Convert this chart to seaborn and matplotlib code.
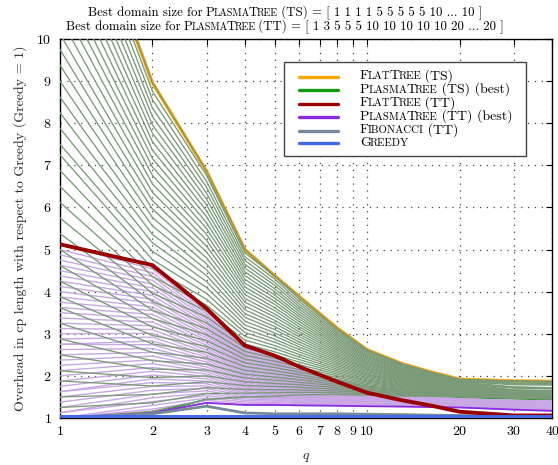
import matplotlib
matplotlib.use("Agg")
import matplotlib.pyplot as plt
from matplotlib.lines import Line2D
from matplotlib.offsetbox import TextArea, HPacker, VPacker, DrawingArea, AnchoredOffsetbox
import numpy as np
import pandas as pd
import seaborn as sns

# q values (number of tile columns), p = 40
Q = [1, 2, 3, 4, 5, 6, 8, 10, 13, 16, 20, 30, 40]

FLAT_TS = [14.88, 8.96, 6.86, 5.00, 4.38, 3.89, 3.13, 2.62, 2.29, 2.10, 1.92, 1.88, 1.87]
FLAT_TT = [5.125, 4.63, 3.60, 2.72, 2.48, 2.22, 1.86, 1.60, 1.42, 1.30, 1.15, 1.06, 1.06]
PLASMA_TS_BEST = [1.00, 1.12, 1.44, 1.50, 1.50, 1.52, 1.53, 1.52, 1.51, 1.50, 1.49, 1.46, 1.44]
PLASMA_TT_BEST = [1.00, 1.12, 1.36, 1.31, 1.31, 1.30, 1.29, 1.28, 1.27, 1.26, 1.25, 1.20, 1.17]
FIBONACCI_TT = [1.00, 1.10, 1.28, 1.12, 1.10, 1.10, 1.10, 1.09, 1.08, 1.07, 1.06, 1.03, 1.02]
GREEDY = [1.0] * len(Q)

# PlasmaTree (TS), domain sizes 1..39, one list per q
TS_Q1 = [1.00, 1.25, 1.50, 1.88, 2.12, 2.50, 2.88, 3.25, 3.62, 3.88,
         4.25, 4.62, 5.00, 5.38, 5.75, 6.12, 6.50, 6.88, 7.25, 7.50,
         7.88, 8.25, 8.62, 9.00, 9.38, 9.75, 10.12, 10.50, 10.88, 11.25,
         11.62, 12.00, 12.38, 12.75, 13.12, 13.50, 13.88, 14.25, 14.62]
TS_Q2 = [1.16, 1.36, 1.56, 1.76, 1.96, 2.16, 2.36, 2.56, 2.76, 2.96,
         3.16, 3.36, 3.56, 3.76, 3.96, 4.16, 4.36, 4.56, 4.76, 4.96,
         5.16, 5.36, 5.56, 5.76, 5.96, 6.16, 6.36, 6.56, 6.76, 6.96,
         7.16, 7.36, 7.56, 7.76, 7.96, 8.16, 8.36, 8.56, 8.76]
TS_Q3 = [1.44, 1.58, 1.72, 1.86, 2.00, 2.14, 2.28, 2.42, 2.56, 2.70,
         2.84, 2.98, 3.12, 3.26, 3.40, 3.54, 3.68, 3.82, 3.96, 4.10,
         4.24, 4.38, 4.52, 4.66, 4.80, 4.94, 5.08, 5.22, 5.36, 5.50,
         5.64, 5.78, 5.92, 6.06, 6.20, 6.34, 6.48, 6.62, 6.76]
TS_Q4 = [1.50, 1.59, 1.68, 1.77, 1.86, 1.95, 2.04, 2.13, 2.22, 2.31,
         2.40, 2.49, 2.58, 2.67, 2.76, 2.85, 2.94, 3.03, 3.12, 3.21,
         3.30, 3.39, 3.48, 3.57, 3.66, 3.75, 3.84, 3.93, 4.02, 4.11,
         4.20, 4.29, 4.38, 4.47, 4.56, 4.65, 4.74, 4.83, 4.92]
TS_Q5 = [1.52, 1.60, 1.67, 1.75, 1.82, 1.90, 1.97, 2.05, 2.12, 2.20,
         2.27, 2.35, 2.42, 2.50, 2.57, 2.65, 2.72, 2.80, 2.87, 2.95,
         3.02, 3.10, 3.17, 3.25, 3.32, 3.40, 3.47, 3.55, 3.62, 3.70,
         3.77, 3.85, 3.92, 4.00, 4.07, 4.15, 4.22, 4.30, 4.37]
TS_Q6 = [1.55, 1.61, 1.67, 1.73, 1.79, 1.85, 1.91, 1.97, 2.03, 2.09,
         2.15, 2.21, 2.27, 2.33, 2.39, 2.45, 2.51, 2.57, 2.63, 2.69,
         2.75, 2.81, 2.87, 2.93, 2.99, 3.05, 3.11, 3.17, 3.23, 3.29,
         3.35, 3.41, 3.47, 3.53, 3.59, 3.65, 3.71, 3.77, 3.83]
TS_Q8 = [1.56, 1.60, 1.64, 1.68, 1.72, 1.76, 1.80, 1.84, 1.88, 1.92,
         1.96, 2.00, 2.04, 2.08, 2.12, 2.16, 2.20, 2.24, 2.28, 2.32,
         2.36, 2.40, 2.44, 2.48, 2.52, 2.56, 2.60, 2.64, 2.68, 2.72,
         2.76, 2.80, 2.84, 2.88, 2.92, 2.96, 3.00, 3.04, 3.08]
TS_Q10 = [1.54, 1.57, 1.60, 1.62, 1.65, 1.68, 1.71, 1.74, 1.76, 1.79,
          1.82, 1.85, 1.88, 1.90, 1.93, 1.96, 1.99, 2.02, 2.04, 2.07,
          2.10, 2.13, 2.16, 2.18, 2.21, 2.24, 2.27, 2.30, 2.32, 2.35,
          2.38, 2.41, 2.44, 2.46, 2.49, 2.52, 2.55, 2.58, 2.60]
TS_Q13 = [1.52, 1.54, 1.56, 1.58, 1.60, 1.62, 1.64, 1.66, 1.68, 1.70,
          1.72, 1.74, 1.76, 1.78, 1.80, 1.82, 1.84, 1.86, 1.88, 1.90,
          1.92, 1.94, 1.96, 1.98, 2.00, 2.02, 2.04, 2.06, 2.08, 2.10,
          2.12, 2.14, 2.16, 2.18, 2.20, 2.22, 2.24, 2.26, 2.28]
TS_Q16 = [1.520, 1.535, 1.550, 1.565, 1.580, 1.595, 1.610, 1.625, 1.640, 1.655,
          1.670, 1.685, 1.700, 1.715, 1.730, 1.745, 1.760, 1.775, 1.790, 1.805,
          1.820, 1.835, 1.850, 1.865, 1.880, 1.895, 1.910, 1.925, 1.940, 1.955,
          1.970, 1.985, 2.000, 2.015, 2.030, 2.045, 2.060, 2.075, 2.090]
TS_Q20 = [1.500, 1.511, 1.522, 1.533, 1.544, 1.555, 1.566, 1.577, 1.588, 1.599,
          1.610, 1.621, 1.632, 1.643, 1.654, 1.665, 1.676, 1.687, 1.698, 1.709,
          1.720, 1.731, 1.742, 1.753, 1.764, 1.775, 1.786, 1.797, 1.808, 1.819,
          1.830, 1.841, 1.852, 1.863, 1.874, 1.885, 1.896, 1.907, 1.918]
TS_Q30 = [1.470, 1.476, 1.482, 1.488, 1.494, 1.500, 1.506, 1.512, 1.518, 1.524,
          1.530, 1.536, 1.542, 1.548, 1.554, 1.560, 1.566, 1.572, 1.578, 1.584,
          1.590, 1.596, 1.602, 1.608, 1.614, 1.640, 1.650, 1.660, 1.670, 1.710,
          1.720, 1.730, 1.740, 1.790, 1.810, 1.830, 1.860, 1.870, 1.875]
TS_Q40 = [1.450, 1.456, 1.462, 1.468, 1.474, 1.480, 1.486, 1.492, 1.498, 1.504,
          1.510, 1.516, 1.522, 1.528, 1.534, 1.540, 1.546, 1.552, 1.558, 1.564,
          1.570, 1.576, 1.582, 1.588, 1.594, 1.620, 1.630, 1.640, 1.650, 1.690,
          1.700, 1.710, 1.720, 1.780, 1.800, 1.820, 1.850, 1.860, 1.865]

# PlasmaTree (TT), domain sizes 1..39, one list per q
TT_Q1 = [1.000, 1.000, 1.000, 1.125, 1.125, 1.250, 1.375, 1.500, 1.625, 1.625,
         1.750, 1.875, 2.000, 2.125, 2.250, 2.375, 2.500, 2.625, 2.750, 2.750,
         2.875, 3.000, 3.125, 3.250, 3.375, 3.500, 3.625, 3.750, 3.875, 4.000,
         4.125, 4.250, 4.375, 4.500, 4.625, 4.750, 4.875, 5.000, 5.125]
TT_Q2 = [1.12, 1.21, 1.30, 1.39, 1.48, 1.57, 1.66, 1.75, 1.84, 1.93,
         2.02, 2.11, 2.20, 2.29, 2.38, 2.47, 2.56, 2.65, 2.74, 2.83,
         2.92, 3.01, 3.10, 3.19, 3.28, 3.37, 3.46, 3.55, 3.64, 3.73,
         3.82, 3.91, 4.00, 4.09, 4.18, 4.27, 4.36, 4.45, 4.54]
TT_Q3 = [1.360, 1.417, 1.474, 1.531, 1.588, 1.645, 1.702, 1.759, 1.816, 1.873,
         1.930, 1.987, 2.044, 2.101, 2.158, 2.215, 2.272, 2.329, 2.386, 2.443,
         2.500, 2.557, 2.614, 2.671, 2.728, 2.785, 2.842, 2.899, 2.956, 3.013,
         3.070, 3.127, 3.184, 3.241, 3.298, 3.355, 3.412, 3.469, 3.526]
TT_Q4 = [1.310, 1.346, 1.381, 1.417, 1.452, 1.488, 1.523, 1.559, 1.594, 1.630,
         1.665, 1.701, 1.736, 1.772, 1.807, 1.843, 1.878, 1.914, 1.949, 1.985,
         2.020, 2.056, 2.091, 2.127, 2.162, 2.198, 2.233, 2.269, 2.304, 2.340,
         2.375, 2.411, 2.446, 2.482, 2.517, 2.553, 2.588, 2.624, 2.659]
TT_Q5 = [1.310, 1.339, 1.368, 1.397, 1.426, 1.455, 1.484, 1.513, 1.542, 1.571,
         1.600, 1.629, 1.658, 1.687, 1.716, 1.745, 1.774, 1.803, 1.832, 1.861,
         1.890, 1.919, 1.948, 1.977, 2.006, 2.035, 2.064, 2.093, 2.122, 2.151,
         2.180, 2.209, 2.238, 2.267, 2.296, 2.325, 2.354, 2.383, 2.412]
TT_Q6 = [1.300, 1.322, 1.344, 1.366, 1.388, 1.410, 1.432, 1.454, 1.476, 1.498,
         1.520, 1.542, 1.564, 1.586, 1.608, 1.630, 1.652, 1.674, 1.696, 1.718,
         1.740, 1.762, 1.784, 1.806, 1.828, 1.850, 1.872, 1.894, 1.916, 1.938,
         1.960, 1.982, 2.004, 2.026, 2.048, 2.070, 2.092, 2.114, 2.136]
TT_Q8 = [1.300, 1.316, 1.332, 1.348, 1.364, 1.380, 1.396, 1.412, 1.428, 1.444,
         1.460, 1.476, 1.492, 1.508, 1.524, 1.540, 1.556, 1.572, 1.588, 1.604,
         1.620, 1.636, 1.652, 1.668, 1.684, 1.700, 1.716, 1.732, 1.748, 1.764,
         1.780, 1.796, 1.812, 1.828, 1.844, 1.860, 1.876, 1.892, 1.908]
TT_Q10 = [1.290, 1.302, 1.314, 1.326, 1.338, 1.350, 1.362, 1.374, 1.386, 1.398,
          1.410, 1.422, 1.434, 1.446, 1.458, 1.470, 1.482, 1.494, 1.506, 1.518,
          1.530, 1.542, 1.554, 1.566, 1.578, 1.590, 1.602, 1.614, 1.626, 1.638,
          1.650, 1.662, 1.674, 1.686, 1.698, 1.710, 1.722, 1.734, 1.746]
TT_Q13 = [1.280, 1.289, 1.298, 1.307, 1.316, 1.325, 1.334, 1.343, 1.352, 1.361,
          1.370, 1.379, 1.388, 1.397, 1.406, 1.415, 1.424, 1.433, 1.442, 1.451,
          1.460, 1.469, 1.478, 1.487, 1.496, 1.505, 1.514, 1.523, 1.532, 1.541,
          1.550, 1.559, 1.568, 1.577, 1.586, 1.595, 1.604, 1.613, 1.622]
TT_Q16 = [1.270, 1.277, 1.283, 1.290, 1.296, 1.303, 1.309, 1.316, 1.322, 1.329,
          1.335, 1.342, 1.348, 1.355, 1.361, 1.368, 1.374, 1.381, 1.387, 1.394,
          1.400, 1.407, 1.413, 1.420, 1.426, 1.433, 1.439, 1.446, 1.452, 1.459,
          1.465, 1.472, 1.478, 1.485, 1.491, 1.498, 1.504, 1.511, 1.517]
TT_Q20 = [1.250, 1.256, 1.261, 1.267, 1.272, 1.278, 1.283, 1.289, 1.294, 1.300,
          1.305, 1.311, 1.316, 1.322, 1.327, 1.333, 1.338, 1.344, 1.349, 1.355,
          1.360, 1.366, 1.371, 1.377, 1.382, 1.388, 1.393, 1.399, 1.404, 1.410,
          1.415, 1.421, 1.426, 1.432, 1.437, 1.443, 1.448, 1.454, 1.459]
TT_Q30 = [1.200, 1.206, 1.212, 1.217, 1.223, 1.229, 1.235, 1.241, 1.246, 1.252,
          1.258, 1.264, 1.270, 1.275, 1.281, 1.287, 1.293, 1.299, 1.304, 1.310,
          1.316, 1.322, 1.328, 1.333, 1.339, 1.345, 1.351, 1.357, 1.362, 1.368,
          1.374, 1.380, 1.386, 1.391, 1.397, 1.403, 1.409, 1.415, 1.420]
TT_Q40 = [1.170, 1.176, 1.182, 1.188, 1.194, 1.200, 1.206, 1.212, 1.218, 1.224,
          1.230, 1.236, 1.242, 1.248, 1.254, 1.260, 1.266, 1.272, 1.278, 1.284,
          1.290, 1.296, 1.302, 1.308, 1.314, 1.320, 1.326, 1.332, 1.338, 1.344,
          1.350, 1.356, 1.362, 1.368, 1.374, 1.380, 1.386, 1.392, 1.398]

TS_COLS = [TS_Q1, TS_Q2, TS_Q3, TS_Q4, TS_Q5, TS_Q6, TS_Q8, TS_Q10, TS_Q13, TS_Q16, TS_Q20, TS_Q30, TS_Q40]
TT_COLS = [TT_Q1, TT_Q2, TT_Q3, TT_Q4, TT_Q5, TT_Q6, TT_Q8, TT_Q10, TT_Q13, TT_Q16, TT_Q20, TT_Q30, TT_Q40]

# text pieces, (text, small caps?)
PLASMA = [('P', False), ('LASMA', True), ('T', False), ('REE', True)]
FLAT = [('F', False), ('LAT', True), ('T', False), ('REE', True)]
TITLE_TS = [('Best domain size for ', False)] + PLASMA + [(' (TS) = [ 1 1 1 1 5 5 5 5 5 10 ... 10 ]', False)]
TITLE_TT = [('Best domain size for ', False)] + PLASMA + [(' (TT) = [ 1 3 5 5 5 10 10 10 10 10 20 ... 20 ]', False)]
LEGEND_LABELS = [
    FLAT + [(' (TS)', False)],
    PLASMA + [(' (TS) (best)', False)],
    FLAT + [(' (TT)', False)],
    PLASMA + [(' (TT) (best)', False)],
    [('F', False), ('IBONACCI', True), (' (TT)', False)],
    [('G', False), ('REEDY', True)],
]
YLABEL = 'Overhead in cp length with respect to Greedy (Greedy = 1)'
XTICKS = [1, 2, 3, 4, 5, 6, 7, 8, 9, 10, 20, 30, 40]

C_FAM_TS = '#7a9a78'
C_FAM_TT = '#c9a6e4'
C_ORANGE = '#ffa500'
C_GREEN = '#119911'
C_RED = '#990000'
C_PURPLE = '#8a2be2'
C_GRAY = '#778899'
C_BLUE = '#4169e1'
LEGEND_COLORS = [C_ORANGE, C_GREEN, C_RED, C_PURPLE, C_GRAY, C_BLUE]


def family_frame(cols, extra=None):
    rows = []
    n = len(cols[0])
    for d in range(n):
        for q, col in zip(Q, cols):
            rows.append((d + 1, q, col[d]))
    if extra is not None:
        for q, v in zip(Q, extra):
            rows.append((n + 1, q, v))
    return pd.DataFrame(rows, columns=['domain', 'q', 'overhead'])


def smallcaps(parts, size, ratio=0.78):
    boxes = [TextArea(t, textprops=dict(size=size * ratio if sc else size, color='black'))
             for t, sc in parts]
    return HPacker(children=boxes, align='baseline', pad=0, sep=-0.8)


sns.set_style('white')
plt.rcParams['font.family'] = ['cmr10', 'DejaVu Serif']
plt.rcParams['mathtext.fontset'] = 'cm'
plt.rcParams['axes.unicode_minus'] = False
plt.rcParams['axes.formatter.use_mathtext'] = True

fig = plt.figure(figsize=(5.58, 4.65), dpi=100)
ax = fig.add_axes([60 / 558, 1 - 418 / 465, 492 / 558, 379 / 465])

ts_df = family_frame(TS_COLS, extra=FLAT_TS)
tt_df = family_frame(TT_COLS)

sns.lineplot(x=Q, y=FLAT_TS, color=C_ORANGE, lw=2.4, ax=ax, zorder=2)
sns.lineplot(x=Q, y=PLASMA_TS_BEST, color=C_GREEN, lw=1.4, ax=ax, zorder=2)
sns.lineplot(data=tt_df, x='q', y='overhead', units='domain', estimator=None,
             color=C_FAM_TT, lw=1.0, ax=ax, legend=False, zorder=3)
sns.lineplot(data=ts_df, x='q', y='overhead', units='domain', estimator=None,
             color=C_FAM_TS, lw=0.95, ax=ax, legend=False, zorder=4)
sns.lineplot(x=Q, y=PLASMA_TT_BEST, color=C_PURPLE, lw=1.3, ax=ax, zorder=5)
sns.lineplot(x=Q, y=FIBONACCI_TT, color=C_GRAY, lw=2.0, ax=ax, zorder=6)
sns.lineplot(x=Q, y=FLAT_TT, color=C_RED, lw=2.8, ax=ax, zorder=7)
sns.lineplot(x=Q, y=GREEDY, color=C_BLUE, lw=5, ax=ax, zorder=8)

ax.set_xscale('log')
ax.set_xlim(1, 40)
ax.set_ylim(1, 10)
ax.set_xticks(XTICKS)
ax.set_xticklabels([str(t) for t in XTICKS])
ax.xaxis.set_minor_locator(matplotlib.ticker.NullLocator())
ax.set_yticks(range(1, 11))
ax.tick_params(direction='in', top=True, right=True, length=4, width=0.8,
               labelsize=10, pad=6, colors='black')
ax.grid(True, which='major', linestyle=(0, (1, 4.5)), color='#444444', lw=0.9)
for s in ax.spines.values():
    s.set_color('black')
    s.set_linewidth(1.0)

ax.set_xlabel('$q$', fontsize=10, labelpad=9)
ax.set_ylabel(YLABEL, fontsize=10, labelpad=7)

for parts, ypos in [(TITLE_TS, 1 - 13 / 465), (TITLE_TT, 1 - 27 / 465)]:
    title_box = AnchoredOffsetbox(loc='center', child=smallcaps(parts, 9.3), pad=0, borderpad=0,
                                  frameon=False, bbox_to_anchor=(285 / 558, ypos),
                                  bbox_transform=fig.transFigure)
    fig.add_artist(title_box)

# legend built from packed boxes so the small-caps labels keep their look
rows = []
for color, parts in zip(LEGEND_COLORS, LEGEND_LABELS):
    handle = DrawingArea(34, 8, 0, 0)
    handle.add_artist(Line2D([5.8, 33.8], [3.5, 3.5], color=color, lw=2.4))
    entry = HPacker(children=[handle, smallcaps(parts, 10)], align='center', pad=0, sep=15.6)
    rows.append(HPacker(children=[entry, DrawingArea(5, 1, 0, 0)], align='center', pad=0, sep=0))
legend_body = VPacker(children=rows, align='left', pad=0, sep=-0.2)
legend_box = AnchoredOffsetbox(loc='upper right', child=legend_body, pad=0.5, borderpad=0,
                               frameon=True, bbox_to_anchor=(526 / 558, 1 - 62 / 465),
                               bbox_transform=fig.transFigure, prop=dict(size=10))
legend_box.patch.set_boxstyle('square', pad=0)
legend_box.patch.set_edgecolor('#444444')
legend_box.patch.set_linewidth(1.0)
legend_box.set_zorder(20)
fig.add_artist(legend_box)

fig.savefig('out.png', dpi=100)
